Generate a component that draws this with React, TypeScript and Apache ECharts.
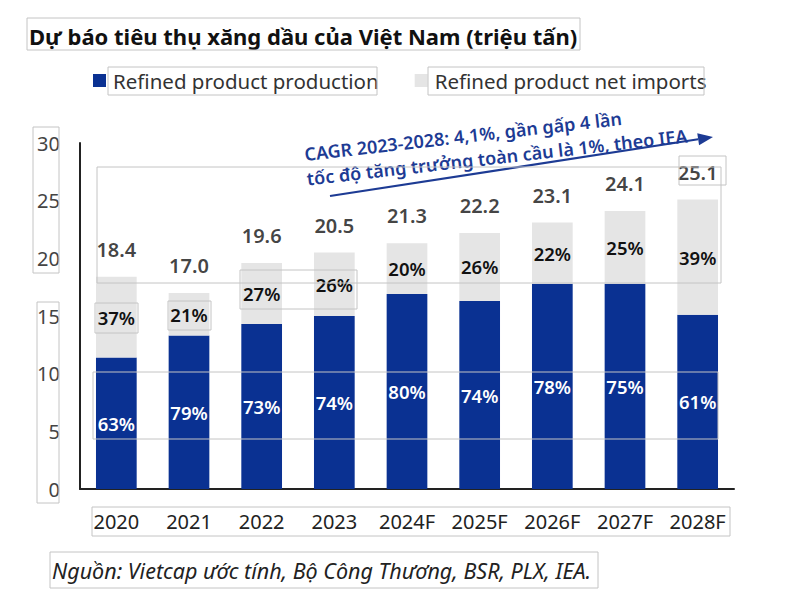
import React, { useEffect, useRef } from "react";
import * as echarts from "echarts";

const categories = ["2020", "2021", "2022", "2023", "2024F", "2025F", "2026F", "2027F", "2028F"];
const production = [11.4, 13.3, 14.3, 15.0, 16.9, 16.3, 17.8, 17.8, 15.1];
const netImports = [7.0, 3.7, 5.3, 5.5, 4.4, 5.9, 5.3, 6.3, 10.0];
const totals = [18.4, 17.0, 19.6, 20.5, 21.3, 22.2, 23.1, 24.1, 25.1];
const productionShare = ["63%", "79%", "73%", "74%", "80%", "74%", "78%", "75%", "61%"];
const importShare = ["37%", "21%", "27%", "26%", "20%", "26%", "22%", "25%", "39%"];
const yMin = 0;
const yMax = 30;
const yInterval = 5;

const titleText = "Dự báo tiêu thụ xăng dầu của Việt Nam (triệu tấn)";
const seriesNames = ["Refined product production", "Refined product net imports"];
const noteLine1 = "CAGR 2023-2028: 4,1%, gần gấp 4 lần";
const noteLine2 = "tốc độ tăng trưởng toàn cầu là 1%, theo IEA";
const sourceText = "Nguồn: Vietcap ước tính, Bộ Công Thương, BSR, PLX, IEA.";

const FONT = "'Noto Sans', 'DejaVu Sans', sans-serif";
const BLUE = "#0a3192";
const GREY = "#e5e5e5";
const NOTE_BLUE = "#1d3b94";

function box(x1: number, y1: number, x2: number, y2: number) {
  return {
    type: "rect",
    shape: { x: x1, y: y1, width: x2 - x1, height: y2 - y1 },
    style: { fill: "none", stroke: "#c4c4c4", lineWidth: 1 },
    z: 100,
    silent: true,
  };
}

export default function App() {
  const ref = useRef<HTMLDivElement>(null);

  useEffect(() => {
    document.body.style.margin = "0";
    if (!ref.current) return;
    const chart = echarts.init(ref.current, undefined, { renderer: "svg" });

    // arrow geometry
    const ax1 = 330, ay1 = 196, ax2 = 713, ay2 = 137;
    const ang = Math.atan2(ay2 - ay1, ax2 - ax1);
    const hl = 15, hw = 6;
    const bx = ax2 - hl * Math.cos(ang), by = ay2 - hl * Math.sin(ang);
    const px = -Math.sin(ang), py = Math.cos(ang);

    const option: any = {
      animation: false,
      backgroundColor: "#ffffff",
      textStyle: { fontFamily: FONT },
      title: {
        text: titleText,
        left: 24,
        top: 20,
        textStyle: { fontFamily: FONT, fontSize: 22, fontWeight: 700, color: "#111" },
      },
      legend: {
        data: seriesNames,
        left: 88,
        top: 65,
        icon: "rect",
        itemWidth: 13,
        itemHeight: 13,
        itemGap: 36,
        textStyle: { fontFamily: FONT, fontSize: 20.5, color: "#333", padding: [0, 0, 0, 2] },
      },
      grid: { left: 80, right: 66, top: 143, bottom: 109, containLabel: false },
      xAxis: {
        type: "category",
        data: categories,
        axisLine: { show: true, lineStyle: { color: "#222", width: 2 } },
        axisTick: { show: false },
        axisLabel: { color: "#222", fontSize: 20, margin: 22, interval: 0, fontFamily: FONT },
      },
      yAxis: {
        type: "value",
        min: yMin,
        max: yMax,
        interval: yInterval,
        axisLine: { show: true, lineStyle: { color: "#222", width: 2 } },
        axisTick: { show: false },
        splitLine: { show: false },
        axisLabel: { color: "#444", fontSize: 20, margin: 20, fontFamily: FONT },
      },
      series: [
        {
          name: seriesNames[0],
          type: "bar",
          stack: "total",
          barWidth: "56%",
          data: production,
          itemStyle: { color: BLUE },
          label: {
            show: true,
            position: "inside",
            color: "#fff",
            fontSize: 18.5,
            fontWeight: 600,
            fontFamily: FONT,
            formatter: (p: any) => productionShare[p.dataIndex],
          },
        },
        {
          name: seriesNames[1],
          type: "bar",
          stack: "total",
          barWidth: "56%",
          data: netImports,
          itemStyle: { color: GREY },
          label: {
            show: true,
            position: "inside",
            color: "#111",
            fontSize: 18.5,
            fontWeight: 600,
            fontFamily: FONT,
            formatter: (p: any) => importShare[p.dataIndex],
          },
        },
        {
          name: "Total",
          type: "scatter",
          data: totals,
          symbolSize: 1,
          itemStyle: { color: "rgba(0,0,0,0)" },
          silent: true,
          label: {
            show: true,
            position: "top",
            distance: 17,
            color: "#111",
            fontSize: 20,
            fontWeight: 600,
            fontFamily: FONT,
            formatter: (p: any) => totals[p.dataIndex].toFixed(1),
          },
        },
      ],
      graphic: [
        {
          type: "text",
          x: 463,
          y: 136,
          rotation: (6.5 * Math.PI) / 180,
          style: {
            text: noteLine1,
            fill: NOTE_BLUE,
            fontSize: 18,
            fontWeight: 600,
            fontFamily: FONT,
            align: "center",
            verticalAlign: "middle",
          },
          z: 50,
        },
        {
          type: "text",
          x: 497,
          y: 157,
          rotation: (6.5 * Math.PI) / 180,
          style: {
            text: noteLine2,
            fill: NOTE_BLUE,
            fontSize: 18,
            fontWeight: 600,
            fontFamily: FONT,
            align: "center",
            verticalAlign: "middle",
          },
          z: 50,
        },
        {
          type: "line",
          shape: { x1: ax1, y1: ay1, x2: bx, y2: by },
          style: { stroke: NOTE_BLUE, lineWidth: 2.2 },
          z: 50,
        },
        {
          type: "polygon",
          shape: {
            points: [
              [ax2, ay2],
              [bx + px * hw, by + py * hw],
              [bx - px * hw, by - py * hw],
            ],
          },
          style: { fill: NOTE_BLUE },
          z: 50,
        },
        {
          type: "text",
          x: 52,
          y: 570,
          style: {
            text: sourceText,
            fill: "#222",
            fontSize: 21.5,
            fontStyle: "italic",
            fontFamily: FONT,
            align: "left",
            verticalAlign: "middle",
          },
          z: 50,
        },
        box(27, 18, 580, 50),
        box(108, 67, 377, 95),
        box(428, 67, 704, 95),
        box(33, 127, 59, 273),
        box(37, 302, 59, 503),
        box(92, 507, 730, 536),
        box(50, 552, 598, 588),
        box(97, 167, 721, 283),
        box(93, 372, 718, 439),
        box(95, 303, 138, 333),
        box(168, 301, 211, 330),
        box(240, 270, 357, 309),
        box(679, 156, 726, 185),
      ],
    };

    chart.setOption(option);
    return () => chart.dispose();
  }, []);

  return <div ref={ref} style={{ width: 800, height: 598 }} />;
}
